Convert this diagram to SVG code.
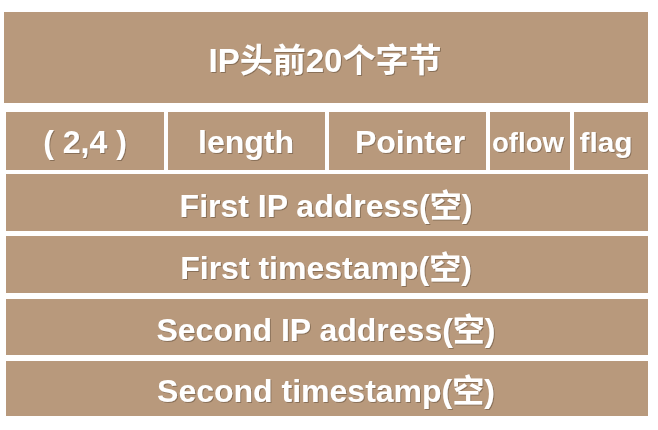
<svg xmlns="http://www.w3.org/2000/svg" width="658" height="430" viewBox="0 0 658 430">
<defs>
<style>
.box{fill:#b8997c;}
.t{fill:#ffffff;font-family:"Liberation Sans","Noto Sans CJK SC",sans-serif;font-weight:bold;font-size:32px;text-anchor:middle;filter:url(#sh);}
</style>
<filter id="sh" x="-10%" y="-30%" width="120%" height="160%">
<feDropShadow dx="1" dy="1" stdDeviation="0.6" flood-color="#6b5540" flood-opacity="0.6"/>
</filter>
</defs>
<rect width="658" height="430" fill="#ffffff"/>
<g id="header"><rect class="box" x="4" y="12" width="644" height="91"/><text class="t" x="325" y="72" style="font-size:33px">IP头前20个字节</text></g>
<g id="type"><rect class="box" x="6" y="112" width="158" height="58"/><text class="t" x="85" y="153">( 2,4 )</text></g>
<g id="length"><rect class="box" x="168" y="112" width="157" height="58"/><text class="t" x="246" y="153">length</text></g>
<g id="pointer"><rect class="box" x="329" y="112" width="157" height="58"/><text class="t" x="410" y="153">Pointer</text></g>
<g id="oflow"><rect class="box" x="490" y="112" width="80" height="58"/><text class="t" x="528" y="152" textLength="72" lengthAdjust="spacingAndGlyphs" style="font-size:28px">oflow</text></g>
<g id="flag"><rect class="box" x="574" y="112" width="74" height="58"/><text class="t" x="606" y="152" style="font-size:28px" textLength="53" lengthAdjust="spacingAndGlyphs">flag</text></g>
<g id="ip1"><rect class="box" x="6" y="174" width="642" height="57"/><text class="t" x="326" y="217">First IP address(空)</text></g>
<g id="ts1"><rect class="box" x="6" y="236" width="642" height="57"/><text class="t" x="326" y="279">First timestamp(空)</text></g>
<g id="ip2"><rect class="box" x="6" y="299" width="642" height="56"/><text class="t" x="326" y="341">Second IP address(空)</text></g>
<g id="ts2"><rect class="box" x="6" y="361" width="642" height="55"/><text class="t" x="326" y="402">Second timestamp(空)</text></g>
<g id="connectors"></g>
</svg>
